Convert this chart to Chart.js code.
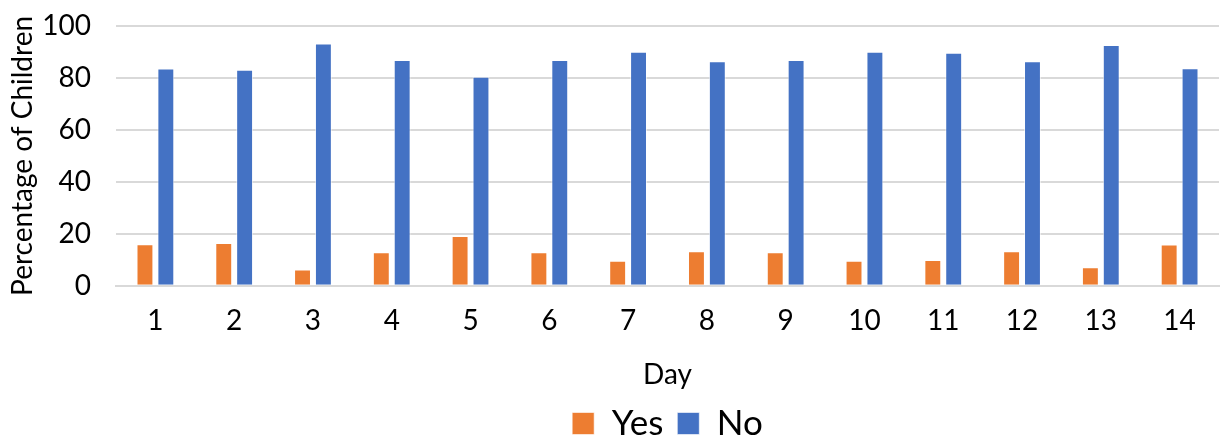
<!DOCTYPE html>
<html>
<head>
<meta charset="utf-8">
<script src="https://cdn.jsdelivr.net/npm/chart.js@4"></script>
<style>
html,body{margin:0;padding:0;background:#fff;overflow:hidden;}
canvas{display:block;}
</style>
</head>
<body>
<canvas id="c" width="1221" height="439"></canvas>
<script>
const days = ['1','2','3','4','5','6','7','8','9','10','11','12','13','14'];
const yesValues = [16.0,16.5,6.3,12.9,19.2,12.9,9.6,13.3,12.9,9.6,9.9,13.3,7.1,15.9];
const noValues = [83.6,83.2,93.3,86.9,80.5,86.9,90.1,86.4,86.9,90.1,89.7,86.4,92.7,83.7];
const yTicks = [0,20,40,60,80,100];
const seriesNames = ['Yes','No'];

const FONT = 'Lato, "Liberation Sans", sans-serif';
Chart.defaults.font.family = FONT;
Chart.defaults.color = '#000';

new Chart(document.getElementById('c'), {
  type: 'bar',
  data: {
    labels: days,
    datasets: [
      {label: seriesNames[0], data: yesValues, backgroundColor: '#ED7D31', borderColor: 'rgba(255,255,255,0.6)', borderWidth: 1, categoryPercentage: 0.53, barPercentage: 0.81},
      {label: seriesNames[1], data: noValues, backgroundColor: '#4472C4', borderColor: 'rgba(255,255,255,0.6)', borderWidth: 1, categoryPercentage: 0.53, barPercentage: 0.81}
    ]
  },
  options: {
    responsive: false,
    animation: false,
    devicePixelRatio: 1,
    layout: {padding: {top: 26, right: 2, bottom: -12, left: 0}},
    plugins: {
      legend: {
        position: 'bottom',
        fullSize: false,
        labels: {font: {size: 35}, boxWidth: 22, boxHeight: 22, padding: 14, color: '#000'}
      },
      tooltip: {enabled: false}
    },
    scales: {
      x: {
        grid: {display: false, drawTicks: false},
        border: {color: '#D9D9D9', width: 2},
        ticks: {font: {size: 28}, padding: 18, color: '#000', maxRotation: 0},
        title: {display: true, text: 'Day', font: {size: 28}, color: '#000', padding: {top: 3, bottom: 0}}
      },
      y: {
        min: 0, max: 100,
        afterBuildTicks: (s) => { s.ticks = yTicks.map(v => ({value: v})); },
        afterFit: (s) => { s.width = 116; },
        grid: {color: '#D9D9D9', lineWidth: 2, drawTicks: true, tickLength: 25, tickColor: 'rgba(0,0,0,0)'},
        border: {display: false},
        ticks: {font: {size: 28}, padding: 0, color: '#000'},
        title: {display: true, text: 'Percentage of Children', font: {size: 28}, color: '#000', padding: {top: 6, bottom: 0}}
      }
    }
  }
});
</script>
</body>
</html>
